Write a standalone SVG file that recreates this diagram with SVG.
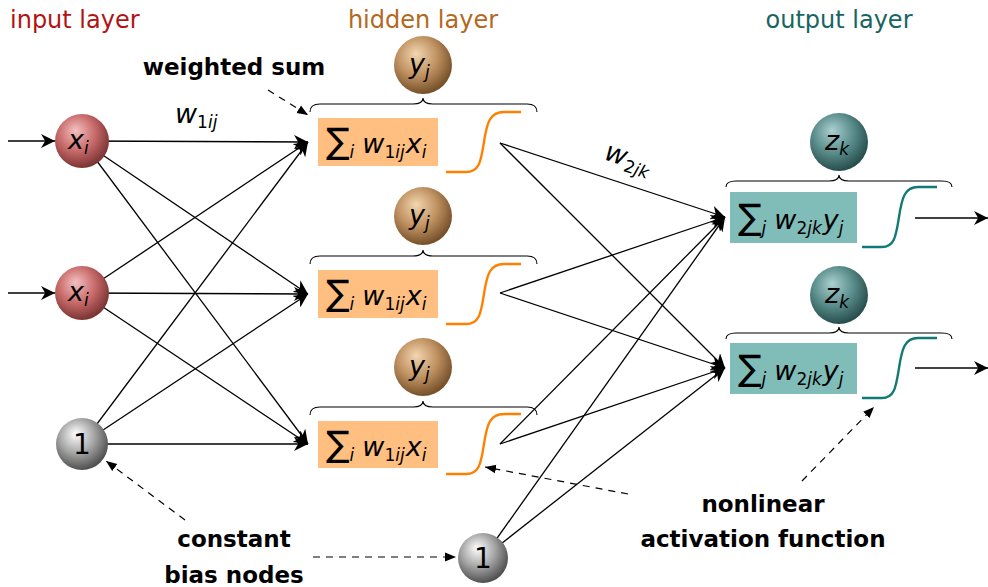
<svg xmlns="http://www.w3.org/2000/svg" width="988" height="587" viewBox="0 0 988 587">
<defs>
<radialGradient id="gRed" cx="0.42" cy="0.38" r="0.62" fx="0.38" fy="0.3"><stop offset="0" stop-color="#f4c0c0"/><stop offset="0.55" stop-color="#c86a6a"/><stop offset="1" stop-color="#7c3434"/></radialGradient>
<radialGradient id="gGray" cx="0.42" cy="0.38" r="0.62" fx="0.38" fy="0.3"><stop offset="0" stop-color="#ffffff"/><stop offset="0.55" stop-color="#a4a4a4"/><stop offset="1" stop-color="#505050"/></radialGradient>
<radialGradient id="gBrown" cx="0.42" cy="0.38" r="0.62" fx="0.38" fy="0.3"><stop offset="0" stop-color="#f2d6b0"/><stop offset="0.55" stop-color="#c09262"/><stop offset="1" stop-color="#76502a"/></radialGradient>
<radialGradient id="gTeal" cx="0.42" cy="0.38" r="0.62" fx="0.38" fy="0.3"><stop offset="0" stop-color="#acd0d0"/><stop offset="0.55" stop-color="#5a8e8c"/><stop offset="1" stop-color="#284e4e"/></radialGradient>
<marker id="ah" viewBox="0 0 10 10" refX="10" refY="5" markerWidth="14" markerHeight="14" markerUnits="userSpaceOnUse" orient="auto"><path d="M0,0 L10,5 L0,10 L3,5 Z" fill="#000"/></marker>
<marker id="ahs" viewBox="0 0 10 10" refX="10" refY="5" markerWidth="11" markerHeight="11" markerUnits="userSpaceOnUse" orient="auto"><path d="M0,1 L10,5 L0,9 Z" fill="#000"/></marker>
</defs>
<style>
.c{stroke:#000;stroke-width:1.3;fill:none;marker-end:url(#ah)}
.d{stroke:#000;stroke-width:1.2;fill:none;stroke-dasharray:7,6;marker-end:url(#ahs)}
.br{stroke:#000;stroke-width:1.1;fill:none}
.sO{stroke:#ff8000;stroke-width:2.4;fill:none}
.sT{stroke:#127a74;stroke-width:2.4;fill:none}
.m{font-family:"DejaVu Sans",sans-serif;font-style:italic;font-size:27px;fill:#000}
.sub{font-size:17px}
.up{font-style:normal}
.num{font-family:"DejaVu Sans",sans-serif;font-size:28px;fill:#000}
.t{font-family:"DejaVu Sans",sans-serif;font-size:24px}
.b{font-family:"DejaVu Sans",sans-serif;font-weight:bold;font-size:23px;fill:#000}
.boxO{fill:#ffbf80}
.boxT{fill:#80bcb8}
</style>

<g id="labels">
<text class="t" x="10" y="28" fill="#b01414">input layer</text>
<text class="t" x="423" y="28" fill="#b4681e" text-anchor="middle">hidden layer</text>
<text class="t" x="839" y="28" fill="#186462" text-anchor="middle">output layer</text>
<text class="b" x="234" y="75" text-anchor="middle">weighted sum</text>
<text class="b" x="234" y="547" text-anchor="middle">constant</text>
<text class="b" x="234" y="583" text-anchor="middle">bias nodes</text>
<text class="b" x="763" y="512" text-anchor="middle">nonlinear</text>
<text class="b" x="763" y="547" text-anchor="middle">activation function</text>
<text class="m" x="175" y="123" font-size="26">w<tspan class="sub up" dy="5">1</tspan><tspan class="sub">ij</tspan></text>
<text class="m" x="0" y="0" font-size="26" transform="translate(603,159) rotate(18.4)">w<tspan class="sub up" dy="5">2</tspan><tspan class="sub">jk</tspan></text>
</g>

<g id="connectors">
<line class="c" x1="8" y1="141" x2="55" y2="141"/>
<line class="c" x1="8" y1="293" x2="55" y2="293"/>
<line class="c" x1="82" y1="141" x2="308" y2="142"/>
<line class="c" x1="82" y1="141" x2="308" y2="294"/>
<line class="c" x1="82" y1="141" x2="308" y2="444"/>
<line class="c" x1="82" y1="293" x2="308" y2="142"/>
<line class="c" x1="82" y1="293" x2="308" y2="294"/>
<line class="c" x1="82" y1="293" x2="308" y2="444"/>
<line class="c" x1="82" y1="444" x2="308" y2="142"/>
<line class="c" x1="82" y1="444" x2="308" y2="294"/>
<line class="c" x1="82" y1="444" x2="308" y2="444"/>
<line class="c" x1="500" y1="143" x2="725" y2="217"/>
<line class="c" x1="500" y1="143" x2="725" y2="368"/>
<line class="c" x1="500" y1="293" x2="725" y2="217"/>
<line class="c" x1="500" y1="293" x2="725" y2="368"/>
<line class="c" x1="500" y1="444" x2="725" y2="217"/>
<line class="c" x1="500" y1="444" x2="725" y2="368"/>
<line class="c" x1="483" y1="558" x2="725" y2="217"/>
<line class="c" x1="483" y1="558" x2="725" y2="368"/>
<line class="c" x1="915" y1="218" x2="988" y2="218"/>
<line class="c" x1="915" y1="368" x2="988" y2="368"/>
<line class="d" x1="268" y1="90" x2="308" y2="115"/>
<line class="d" x1="185" y1="520" x2="106" y2="461"/>
<line class="d" x1="313" y1="557" x2="456" y2="557"/>
<line class="d" x1="628" y1="494" x2="485" y2="467"/>
<line class="d" x1="802" y1="481" x2="874" y2="407"/>
</g>

<g id="in1"><circle cx="82" cy="141" r="27" fill="url(#gRed)"/><text class="m" x="68" y="149" font-size="29">x<tspan class="sub" dy="5">i</tspan></text></g>
<g id="in2"><circle cx="82" cy="293" r="27" fill="url(#gRed)"/><text class="m" x="68" y="301" font-size="29">x<tspan class="sub" dy="5">i</tspan></text></g>
<g id="bias1"><circle cx="82" cy="444" r="26" fill="url(#gGray)"/><text class="num" x="82" y="454" text-anchor="middle">1</text></g>
<g id="bias2"><circle cx="483" cy="558" r="25" fill="url(#gGray)"/><text class="num" x="483" y="568" text-anchor="middle">1</text></g>

<g id="hid1">
<circle cx="423" cy="65" r="29" fill="url(#gBrown)"/><text class="m" x="409" y="73" font-size="29">y<tspan class="sub" dy="5">j</tspan></text>
<path class="br" d="M310,112 Q310,104 320,104 H413 Q423,104 423,98 Q423,104 433,104 H527 Q537,104 537,112"/>
<rect class="boxO" x="318" y="118" width="120" height="48"/>
<text class="m" x="326" y="153"><tspan font-size="35" class="up">∑</tspan><tspan class="sub" dy="5">i</tspan><tspan dx="8" dy="-5">w</tspan><tspan class="sub up" dy="5">1</tspan><tspan class="sub">ij</tspan><tspan dx="1" dy="-5">x</tspan><tspan class="sub" dy="5">i</tspan></text>
<path class="sO" d="M446,172 H466 C480,172 481,160 484,142 C487,122 490,112 504,112 H521"/>
</g>
<g id="hid2">
<circle cx="423" cy="216" r="29" fill="url(#gBrown)"/><text class="m" x="409" y="224" font-size="29">y<tspan class="sub" dy="5">j</tspan></text>
<path class="br" d="M310,264 Q310,256 320,256 H413 Q423,256 423,250 Q423,256 433,256 H527 Q537,256 537,264"/>
<rect class="boxO" x="318" y="270" width="120" height="48"/>
<text class="m" x="326" y="305"><tspan font-size="35" class="up">∑</tspan><tspan class="sub" dy="5">i</tspan><tspan dx="8" dy="-5">w</tspan><tspan class="sub up" dy="5">1</tspan><tspan class="sub">ij</tspan><tspan dx="1" dy="-5">x</tspan><tspan class="sub" dy="5">i</tspan></text>
<path class="sO" d="M446,324 H466 C480,324 481,312 484,294 C487,274 490,264 504,264 H521"/>
</g>
<g id="hid3">
<circle cx="423" cy="367" r="29" fill="url(#gBrown)"/><text class="m" x="409" y="375" font-size="29">y<tspan class="sub" dy="5">j</tspan></text>
<path class="br" d="M310,415 Q310,407 320,407 H413 Q423,407 423,401 Q423,407 433,407 H527 Q537,407 537,415"/>
<rect class="boxO" x="318" y="421" width="120" height="47"/>
<text class="m" x="326" y="456"><tspan font-size="35" class="up">∑</tspan><tspan class="sub" dy="5">i</tspan><tspan dx="8" dy="-5">w</tspan><tspan class="sub up" dy="5">1</tspan><tspan class="sub">ij</tspan><tspan dx="1" dy="-5">x</tspan><tspan class="sub" dy="5">i</tspan></text>
<path class="sO" d="M446,474 H466 C480,474 481,462 484,444 C487,424 490,414 504,414 H521"/>
</g>

<g id="out1">
<circle cx="839" cy="142" r="29" fill="url(#gTeal)"/><text class="m" x="825" y="150" font-size="29">z<tspan class="sub" dy="5">k</tspan></text>
<path class="br" d="M726,187 Q726,181 736,181 H829 Q839,181 839,175 Q839,181 849,181 H942 Q952,181 952,187"/>
<rect class="boxT" x="730" y="192" width="127" height="51"/>
<text class="m" x="738" y="229"><tspan font-size="35" class="up">∑</tspan><tspan class="sub" dy="5">j</tspan><tspan dx="8" dy="-5">w</tspan><tspan class="sub up" dy="5">2</tspan><tspan class="sub">jk</tspan><tspan dx="1" dy="-5">y</tspan><tspan class="sub" dy="5">j</tspan></text>
<path class="sT" d="M862,247 H882 C895,247 896,235 899,217 C902,197 905,187 918,187 H937"/>
</g>
<g id="out2">
<circle cx="839" cy="295" r="29" fill="url(#gTeal)"/><text class="m" x="825" y="303" font-size="29">z<tspan class="sub" dy="5">k</tspan></text>
<path class="br" d="M726,339 Q726,333 736,333 H829 Q839,333 839,327 Q839,333 849,333 H942 Q952,333 952,339"/>
<rect class="boxT" x="730" y="343" width="127" height="51"/>
<text class="m" x="738" y="380"><tspan font-size="35" class="up">∑</tspan><tspan class="sub" dy="5">j</tspan><tspan dx="8" dy="-5">w</tspan><tspan class="sub up" dy="5">2</tspan><tspan class="sub">jk</tspan><tspan dx="1" dy="-5">y</tspan><tspan class="sub" dy="5">j</tspan></text>
<path class="sT" d="M862,398 H882 C895,398 896,386 899,368 C902,348 905,338 918,338 H937"/>
</g>
</svg>
